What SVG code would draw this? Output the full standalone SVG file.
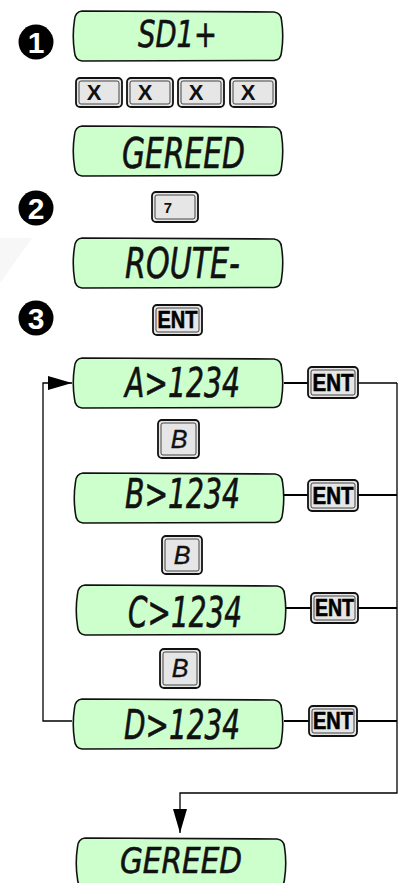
<svg xmlns="http://www.w3.org/2000/svg" xmlns:xlink="http://www.w3.org/1999/xlink" width="403" height="883" viewBox="0 0 403 883">
<defs>
<style>
.lcd{fill:#ccffcc;stroke:#111;stroke-width:1.6}
.lt{font-family:"DejaVu Sans Condensed","DejaVu Sans",sans-serif;font-style:italic;fill:#111;stroke:#111;stroke-width:0.6;text-anchor:start}
.key{fill:#e6e6e6;stroke:#111;stroke-width:1.8}
.kin{fill:none;stroke:#333;stroke-width:0.9}
.kt{font-family:"Liberation Sans",Arial,sans-serif;font-weight:bold;fill:#111;text-anchor:middle}
.ent{font-family:"Liberation Sans",Arial,sans-serif;font-weight:900;fill:#000;stroke:#000;stroke-width:0.6;text-anchor:middle}
.bk{font-family:"Liberation Sans",Arial,sans-serif;font-style:italic;fill:#111;stroke:#111;stroke-width:0.4;text-anchor:middle}
.num{fill:#000}
.numt{font-family:"Liberation Sans",Arial,sans-serif;font-weight:bold;font-size:30px;fill:#fff;text-anchor:middle}
.thick{stroke:#000;stroke-width:2;fill:none}
.thin{stroke:#000;stroke-width:1.3;fill:none}
</style>
<path id="lcdp" class="lcd" d="M9,1 L201,2 Q208,3 208.5,10 Q211,26 208.5,42 Q208,50 201,50.5 L9,51 Q2,50 1.5,42 Q-1,26 1.5,10 Q2,2 9,1 Z"/>
<marker id="ah" markerWidth="24" markerHeight="14" refX="24" refY="7" orient="auto" markerUnits="userSpaceOnUse">
<path d="M0,0 L24,7 L0,14 Z" fill="#000"/>
</marker>
</defs>
<rect width="403" height="883" fill="#fff"/>
<polygon points="0,238 32,238 0,283" fill="#f7f7f7"/>

<g id="step1">
<circle class="num" cx="36" cy="42" r="17.5"/>
<text class="numt" x="36" y="53">1</text>
</g>
<g id="step2">
<circle class="num" cx="36" cy="208" r="17.5"/>
<text class="numt" x="36" y="219">2</text>
</g>
<g id="step3">
<circle class="num" cx="36" cy="318" r="17.5"/>
<text class="numt" x="36" y="329">3</text>
</g>

<g id="lcd-sd1">
<use xlink:href="#lcdp" href="#lcdp" transform="translate(73,10)"/>
<text class="lt" x="138" y="47" font-size="37" textLength="79" lengthAdjust="spacingAndGlyphs">SD1+</text>
</g>

<g id="keys-x">
<rect class="key" x="76" y="78" width="46" height="29" rx="4"/>
<rect class="kin" x="79" y="81" width="40" height="23" rx="2"/>
<text class="kt" x="94" y="100" font-size="22">X</text>
<rect class="key" x="127" y="78" width="46" height="29" rx="4"/>
<rect class="kin" x="130" y="81" width="40" height="23" rx="2"/>
<text class="kt" x="145" y="100" font-size="22">X</text>
<rect class="key" x="178" y="78" width="46" height="29" rx="4"/>
<rect class="kin" x="181" y="81" width="40" height="23" rx="2"/>
<text class="kt" x="196" y="100" font-size="22">X</text>
<rect class="key" x="230" y="78" width="46" height="29" rx="4"/>
<rect class="kin" x="233" y="81" width="40" height="23" rx="2"/>
<text class="kt" x="248" y="100" font-size="22">X</text>
</g>

<g id="lcd-gereed1">
<use xlink:href="#lcdp" href="#lcdp" transform="translate(73,125)"/>
<text class="lt" x="122" y="168" font-size="42" textLength="123" lengthAdjust="spacingAndGlyphs">GEREED</text>
</g>

<g id="key-7">
<rect class="key" x="152" y="192" width="46" height="30" rx="4"/>
<rect class="kin" x="155" y="195" width="40" height="24" rx="2"/>
<text class="kt" x="168" y="213" font-size="15">7</text>
</g>

<g id="lcd-route">
<use xlink:href="#lcdp" href="#lcdp" transform="translate(73,237)"/>
<text class="lt" x="125" y="278" font-size="42" textLength="115" lengthAdjust="spacingAndGlyphs">ROUTE-</text>
</g>

<g id="key-ent0">
<rect class="key" x="153" y="305" width="49" height="30" rx="4"/>
<rect class="kin" x="156" y="308" width="43" height="24" rx="2"/>
<text class="ent" x="177.5" y="328" font-size="24" textLength="40" lengthAdjust="spacingAndGlyphs">ENT</text>
</g>

<g id="connectors">
<polyline class="thin" points="72,721 43,721 43,383 72,383" marker-end="url(#ah)"/>
<line class="thick" x1="284" y1="383" x2="309" y2="383"/>
<line class="thin" x1="358" y1="383" x2="397" y2="383"/>
<line class="thick" x1="284" y1="495" x2="309" y2="495"/>
<line class="thick" x1="358" y1="495" x2="397" y2="495"/>
<line class="thick" x1="286" y1="608" x2="311" y2="608"/>
<line class="thick" x1="358" y1="608" x2="397" y2="608"/>
<line class="thick" x1="284" y1="721" x2="309" y2="721"/>
<line class="thick" x1="358" y1="721" x2="397" y2="721"/>
<polyline class="thin" points="397,383 397,793 180,793 180,833" marker-end="url(#ah)"/>
</g>

<g id="lcd-a">
<use xlink:href="#lcdp" href="#lcdp" transform="translate(73,357)"/>
<text class="lt" x="125" y="397" font-size="40" textLength="115" lengthAdjust="spacingAndGlyphs">A&gt;1234</text>
</g>
<g id="key-ent-a">
<rect class="key" x="308" y="367" width="50" height="31" rx="4"/>
<rect class="kin" x="311" y="370" width="44" height="25" rx="2"/>
<text class="ent" x="333" y="391" font-size="23" textLength="41" lengthAdjust="spacingAndGlyphs">ENT</text>
</g>

<g id="key-b1">
<rect class="key" x="158" y="420" width="41" height="38" rx="4"/>
<rect class="kin" x="161" y="423" width="35" height="32" rx="2"/>
<text class="bk" x="179" y="448" font-size="25">B</text>
</g>

<g id="lcd-b">
<use xlink:href="#lcdp" href="#lcdp" transform="translate(74,472)"/>
<text class="lt" x="125" y="508" font-size="40" textLength="115" lengthAdjust="spacingAndGlyphs">B&gt;1234</text>
</g>
<g id="key-ent-b">
<rect class="key" x="308" y="480" width="50" height="31" rx="4"/>
<rect class="kin" x="311" y="483" width="44" height="25" rx="2"/>
<text class="ent" x="333" y="504" font-size="23" textLength="41" lengthAdjust="spacingAndGlyphs">ENT</text>
</g>

<g id="key-b2">
<rect class="key" x="162" y="536" width="40" height="38" rx="4"/>
<rect class="kin" x="165" y="539" width="34" height="32" rx="2"/>
<text class="bk" x="182" y="564" font-size="25">B</text>
</g>

<g id="lcd-c">
<use xlink:href="#lcdp" href="#lcdp" transform="translate(76,584)"/>
<text class="lt" x="128" y="627" font-size="42" textLength="114" lengthAdjust="spacingAndGlyphs">C&gt;1234</text>
</g>
<g id="key-ent-c">
<rect class="key" x="311" y="593" width="47" height="30" rx="4"/>
<rect class="kin" x="314" y="596" width="41" height="24" rx="2"/>
<text class="ent" x="334.5" y="616" font-size="23" textLength="39" lengthAdjust="spacingAndGlyphs">ENT</text>
</g>

<g id="key-b3">
<rect class="key" x="160" y="649" width="40" height="39" rx="4"/>
<rect class="kin" x="163" y="652" width="34" height="33" rx="2"/>
<text class="bk" x="180" y="677" font-size="25">B</text>
</g>

<g id="lcd-d">
<use xlink:href="#lcdp" href="#lcdp" transform="translate(73,698)"/>
<text class="lt" x="124" y="739" font-size="40" textLength="116" lengthAdjust="spacingAndGlyphs">D&gt;1234</text>
</g>
<g id="key-ent-d">
<rect class="key" x="309" y="706" width="48" height="30" rx="4"/>
<rect class="kin" x="312" y="709" width="42" height="24" rx="2"/>
<text class="ent" x="333" y="729" font-size="23" textLength="40" lengthAdjust="spacingAndGlyphs">ENT</text>
</g>

<g id="lcd-gereed2">
<use xlink:href="#lcdp" href="#lcdp" transform="translate(76,837)"/>
<text class="lt" x="120" y="873" font-size="36" textLength="122" lengthAdjust="spacingAndGlyphs">GEREED</text>
</g>
</svg>
